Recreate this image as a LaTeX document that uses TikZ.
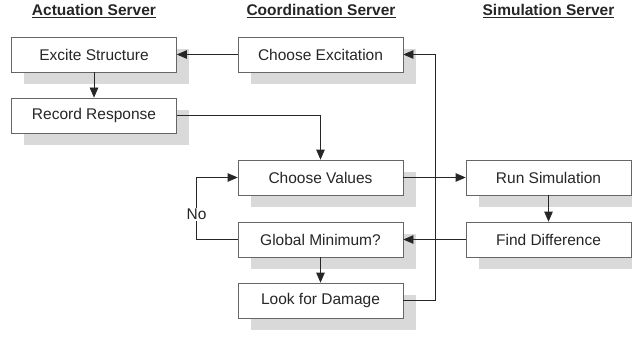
\documentclass[tikz,border=0pt]{standalone}
\usepackage{fontspec}
\setmainfont{Liberation Sans}
\usetikzlibrary{arrows.meta,shadows}

\begin{document}
\begin{tikzpicture}[x=1pt,y=1pt,yscale=-1,xscale=1,
  >={Triangle[length=10pt,width=8.5pt]},
  procbox/.style={draw=black!60, line width=0.7pt, fill=white,
    minimum width=165pt, minimum height=35pt, inner sep=0pt,
    font=\fontsize{15.5}{18}\selectfont, text=black!85,
    drop shadow={shadow xshift=12.5pt, shadow yshift=-12pt, fill=black!15, opacity=1}},
  header/.style={font=\fontsize{15.5}{18}\selectfont\bfseries, text=black!85},
  link/.style={draw=black!85, line width=0.7pt, ->}]
\useasboundingbox (0,0) rectangle (632,337);

% Text Node
\node[header] (acthead) at (94,11) {\underline{Actuation Server}};
% Text Node
\node[header] (coohead) at (321,11) {\underline{Coordination Server}};
% Text Node
\node[header] (simhead) at (548.5,11) {\underline{Simulation Server}};

%Shape: Rectangle
\node[procbox] (excite) at (94,54.5) {Excite Structure};
%Shape: Rectangle
\node[procbox] (record) at (94,115.5) {Record Response};
%Shape: Rectangle
\node[procbox] (excitation) at (320.5,54.5) {Choose Excitation};
%Shape: Rectangle
\node[procbox] (values) at (320.5,177.5) {Choose Values};
%Shape: Rectangle
\node[procbox] (globalmin) at (320.5,239.5) {Global Minimum?};
%Shape: Rectangle
\node[procbox] (damage) at (320.5,300.5) {Look for Damage};
%Shape: Rectangle
\node[procbox] (runsim) at (548.5,177.5) {Run Simulation};
%Shape: Rectangle
\node[procbox] (finddiff) at (548.5,239.5) {Find Difference};

%Straight Lines
\draw[link] (excitation) -- (excite);
\draw[link] (excite) -- (record);
\draw[link] (record.east) -| (values.north);
\draw[link] (values) -- (runsim);
\draw[link] (runsim) -- (finddiff);
\draw[link] (finddiff) -- (globalmin);
\draw[link] (globalmin) -- (damage);
\draw[link] (globalmin.west) -- ++(-41,0) |- node[pos=0.2, fill=white, inner sep=1pt, text=black!85, font=\fontsize{15.5}{18}\selectfont] (nolabel) {No} (values.west);
\draw[link] (damage.east) -- ++(32,0) |- (excitation.east);

\end{tikzpicture}
\end{document}
